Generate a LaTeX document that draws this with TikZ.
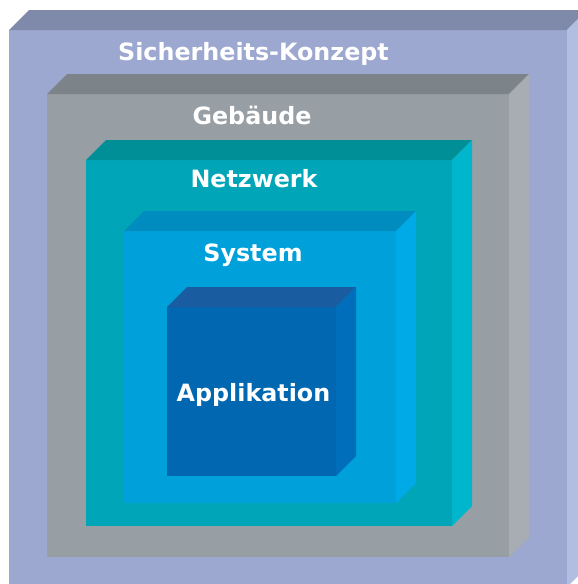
\documentclass[tikz,border=0pt]{standalone}
\usepackage{fontspec}
\setmainfont{DejaVu Sans}

% face colours of the nested blocks
\definecolor{konzeptFront}{HTML}{9CA8CF}
\definecolor{konzeptTop}{HTML}{7F89AA}
\definecolor{konzeptSide}{HTML}{B2BEE1}
\definecolor{gebaeudeFront}{HTML}{979EA4}
\definecolor{gebaeudeTop}{HTML}{7D8489}
\definecolor{gebaeudeSide}{HTML}{A8ACB3}
\definecolor{netzFront}{HTML}{00A6B7}
\definecolor{netzTop}{HTML}{008F96}
\definecolor{netzSide}{HTML}{00B6CC}
\definecolor{sysFront}{HTML}{00A0DA}
\definecolor{sysTop}{HTML}{008CBE}
\definecolor{sysSide}{HTML}{00AAE6}
\definecolor{appFront}{HTML}{0067B0}
\definecolor{appTop}{HTML}{195CA0}
\definecolor{appSide}{HTML}{006EBA}

% a block seen slightly from above-right: front face, top face, right face
% #1,#2 = top-left corner of the front face, #3,#4 = bottom-right corner,
% #5 = depth, #6/#7/#8 = front/top/side colour
\newcommand\blockbox[8]{%
  \fill[#6] (#1,#2) rectangle (#3,#4);
  \fill[#7] (#1,#2) -- ({#1+#5},{#2-#5}) -- ({#3+#5},{#2-#5}) -- (#3,#2) -- cycle;
  \fill[#8] (#3,#2) -- ({#3+#5},{#2-#5}) -- ({#3+#5},{#4-#5}) -- (#3,#4) -- cycle;
}

\tikzset{
  layerlabel/.style={text=white, anchor=base, inner sep=0pt,
    font=\fontsize{23.8}{28}\selectfont\bfseries}
}

\begin{document}
\begin{tikzpicture}[x=1pt, y=-1pt]
  \useasboundingbox (0,0) rectangle (578,584);
  \clip (0,0) rectangle (578,584);

  \blockbox{9}{30}{567}{587}{20}{konzeptFront}{konzeptTop}{konzeptSide}
  \blockbox{47}{94}{509}{557}{20}{gebaeudeFront}{gebaeudeTop}{gebaeudeSide}
  \blockbox{86}{160}{452}{526}{20}{netzFront}{netzTop}{netzSide}
  \blockbox{124}{231}{396}{503}{20}{sysFront}{sysTop}{sysSide}
  \blockbox{167}{307}{336}{476}{20}{appFront}{appTop}{appSide}

  \node[layerlabel] (konzept) at (253.5,60) {Sicherheits-Konzept};
  \node[layerlabel] (gebaeude) at (252,124) {Gebäude};
  \node[layerlabel] (netzwerk) at (254,187) {Netzwerk};
  \node[layerlabel] (system) at (253,261) {System};
  \node[layerlabel] (applikation) at (253.5,401) {Applikation};
\end{tikzpicture}
\end{document}
